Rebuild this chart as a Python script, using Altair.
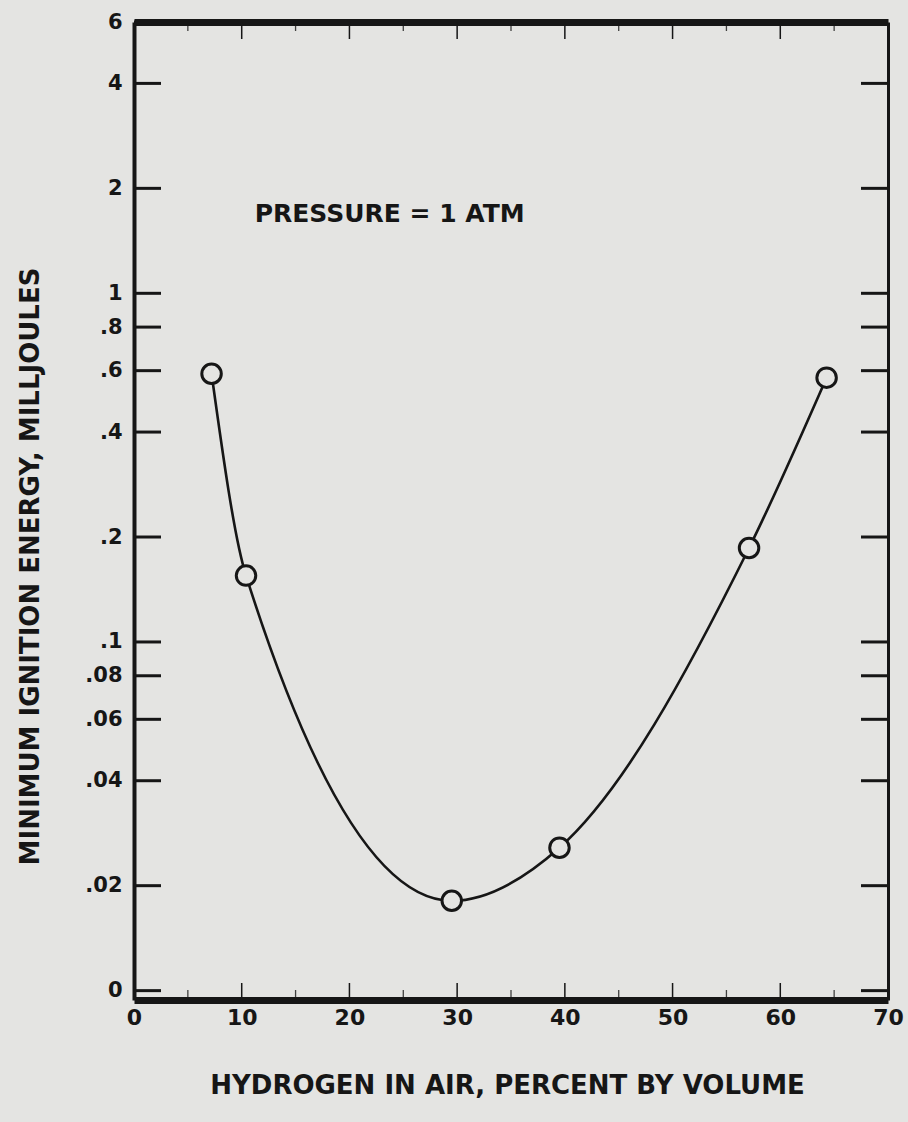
import altair as alt
import pandas as pd

# ---- data ----
h2_percent = [7.2, 10.4, 29.5, 39.5, 57.1, 64.3]
energy_mj = [0.588, 0.155, 0.0181, 0.0257, 0.186, 0.573]

y_tick_values = [0.01, 0.02, 0.04, 0.06, 0.08, 0.1, 0.2, 0.4, 0.6, 0.8, 1, 2, 4, 6]
y_tick_labels = ["0", ".02", ".04", ".06", ".08", ".1", ".2", ".4", ".6", ".8", "1", "2", "4", "6"]
right_tick_values = [0.01, 0.02, 0.04, 0.06, 0.08, 0.1, 0.2, 0.4, 0.6, 0.8, 1, 2, 4]
x_major = [10, 20, 30, 40, 50, 60]
x_minor = [5, 15, 25, 35, 45, 55, 65]
x_label_values = [0, 10, 20, 30, 40, 50, 60, 70]

note_text = ["PRESSURE = 1 ATM"]
note_x = [11.2]
note_y = [1.69]

# ---- layout ----
W, H = 754, 978
BG = "#e4e4e2"
INK = "#161616"
X_DOM = [0, 70]
Y_DOM = [0.0094, 6]

df = pd.DataFrame({"x": h2_percent, "y": energy_mj})
label_expr = "{" + ",".join(f"'{v}':'{l}'" for v, l in zip(y_tick_values, y_tick_labels)) + "}"
ylab_expr = f"{label_expr}[datum.value + ''] || ''"

xs = alt.Scale(domain=X_DOM, nice=False, zero=False)
ys = alt.Scale(type="log", domain=Y_DOM, nice=False)

curve = alt.Chart(df).mark_line(
    interpolate="monotone", color=INK, strokeWidth=2.6
).encode(
    x=alt.X("x:Q", scale=xs, axis=alt.Axis(
        values=x_label_values, format="d", ticks=False, grid=False,
        domainColor=INK, domainWidth=7, labelFont="DejaVu Sans",
        labelFontSize=22, labelColor=INK, labelPadding=7, labelFontWeight="bold",
        title="HYDROGEN IN AIR, PERCENT BY VOLUME", titleFont="DejaVu Sans",
        titleFontSize=26, titleFontWeight="bold", titleColor=INK,
        titleX=373, titleY=85, titleBaseline="middle", titleAlign="center",
        labelFlush=False)),
    y=alt.Y("y:Q", scale=ys, axis=alt.Axis(
        values=y_tick_values, labelExpr=ylab_expr, ticks=False, grid=False,
        domainColor=INK, domainWidth=4, labelFont="DejaVu Sans",
        labelFontSize=21, labelFontWeight="bold", labelColor=INK,
        labelPadding=12, labelBaseline="middle",
        title="MINIMUM IGNITION ENERGY, MILLJOULES", titleFont="DejaVu Sans",
        titleFontSize=26, titleFontWeight="bold", titleColor=INK,
        titleX=-104, titleY=544, titleAngle=270, titleBaseline="middle",
        titleAlign="center", labelFlush=False)),
)

points = alt.Chart(df).mark_point(
    shape="circle", size=380, filled=False, fill=BG, fillOpacity=1,
    stroke=INK, strokeWidth=3, opacity=1
).encode(
    x=alt.X("x:Q", scale=xs, axis=None),
    y=alt.Y("y:Q", scale=ys, axis=None),
)

left_ticks = alt.Chart(pd.DataFrame({"v": y_tick_values})).mark_rule(
    color=INK, strokeWidth=3
).encode(
    y=alt.Y("v:Q", scale=ys, axis=None),
    x=alt.value(0), x2=alt.value(27),
)

right_ticks = alt.Chart(pd.DataFrame({"v": right_tick_values})).mark_rule(
    color=INK, strokeWidth=3
).encode(
    y=alt.Y("v:Q", scale=ys, axis=alt.Axis(
        orient="right", labels=False, ticks=False, grid=False, title=None,
        domainColor=INK, domainWidth=3)),
    x=alt.value(W - 27), x2=alt.value(W),
)

bottom_major = alt.Chart(pd.DataFrame({"v": x_major})).mark_rule(
    color=INK, strokeWidth=1.5
).encode(
    x=alt.X("v:Q", scale=xs, axis=None),
    y=alt.value(H - 17), y2=alt.value(H),
)
bottom_minor = alt.Chart(pd.DataFrame({"v": x_minor})).mark_rule(
    color=INK, strokeWidth=1.3, opacity=0.8
).encode(
    x=alt.X("v:Q", scale=xs, axis=None),
    y=alt.value(H - 10), y2=alt.value(H),
)
top_major = alt.Chart(pd.DataFrame({"v": x_major})).mark_rule(
    color=INK, strokeWidth=1.5
).encode(
    x=alt.X("v:Q", scale=xs, axis=alt.Axis(
        orient="top", labels=False, ticks=False, grid=False, title=None,
        domainColor=INK, domainWidth=7)),
    y=alt.value(0), y2=alt.value(17),
)
top_minor = alt.Chart(pd.DataFrame({"v": x_minor})).mark_rule(
    color=INK, strokeWidth=1.3, opacity=0.8
).encode(
    x=alt.X("v:Q", scale=xs, axis=None),
    y=alt.value(0), y2=alt.value(9),
)

note = alt.Chart(pd.DataFrame({"t": note_text, "x": note_x, "y": note_y})).mark_text(
    font="DejaVu Sans", fontSize=25, fontWeight="bold", color=INK,
    align="left", baseline="middle"
).encode(
    x=alt.X("x:Q", scale=xs, axis=None),
    y=alt.Y("y:Q", scale=ys, axis=None),
    text="t:N",
)

chart = alt.layer(
    left_ticks, right_ticks, bottom_major, bottom_minor, top_major, top_minor,
    curve, points, note
).resolve_axis(
    x="independent", y="independent"
).properties(
    width=W, height=H,
    padding={"left": 134, "top": 22, "right": 20, "bottom": 122},
    autosize="none",
    background=BG,
).configure_view(stroke=None)

chart.save("out.html", embed_options={"renderer": "svg", "actions": False})
